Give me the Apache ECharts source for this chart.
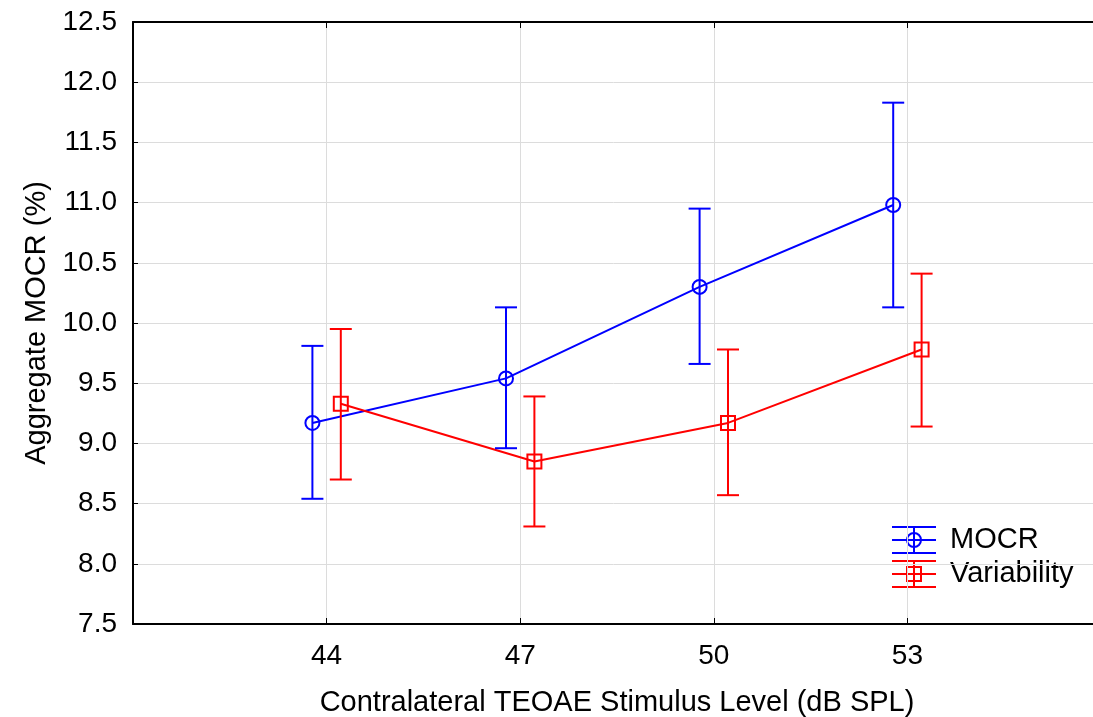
<!DOCTYPE html>
<html>
<head>
<meta charset="utf-8">
<script src="https://cdn.jsdelivr.net/npm/echarts@6/dist/echarts.min.js"></script>
<style>
html,body{margin:0;padding:0;background:#fff;}
#c{width:1093px;height:717px;}
</style>
</head>
<body>
<div id="c"></div>
<script>
// ---- data ----
const levels = [44, 47, 50, 53];
const mocrMean = [9.17, 9.54, 10.30, 10.98];
const mocrLow  = [8.54, 8.96, 9.66, 10.13];
const mocrHigh = [9.81, 10.13, 10.95, 11.83];
const varMean  = [9.33, 8.85, 9.17, 9.78];
const varLow   = [8.70, 8.31, 8.57, 9.14];
const varHigh  = [9.95, 9.39, 9.78, 10.41];
const seriesNames = ['MOCR', 'Variability'];
const xAxisTitle = 'Contralateral TEOAE Stimulus Level (dB SPL)';
const yAxisTitle = 'Aggregate MOCR (%)';

// ---- style ----
const FONT = '"Liberation Sans", Arial, sans-serif';
const FS = 28;
const FS_NAME = 29;
const BLUE = '#0000ff', RED = '#ff0000';
const OFFSET = 0.22; // horizontal dodge in x units
const CAP = 11;

function build(mean, low, high, off) {
  return levels.map((l, i) => [l + off, mean[i], low[i], high[i]]);
}

function errRender(color, shape) {
  return function (params, api) {
    const x = api.value(0);
    const pm = api.coord([x, api.value(1)]);
    const pl = api.coord([x, api.value(2)]);
    const ph = api.coord([x, api.value(3)]);
    const st = { stroke: color, lineWidth: 2, fill: 'none' };
    const children = [
      { type: 'line', shape: { x1: pl[0], y1: pl[1], x2: ph[0], y2: ph[1] }, style: st },
      { type: 'line', shape: { x1: pl[0] - CAP, y1: pl[1], x2: pl[0] + CAP, y2: pl[1] }, style: st },
      { type: 'line', shape: { x1: ph[0] - CAP, y1: ph[1], x2: ph[0] + CAP, y2: ph[1] }, style: st }
    ];
    if (shape === 'circle') {
      children.push({ type: 'circle', shape: { cx: pm[0], cy: pm[1], r: 7 }, style: st });
    } else {
      children.push({ type: 'rect', shape: { x: pm[0] - 7, y: pm[1] - 7, width: 14, height: 14 }, style: st });
    }
    return { type: 'group', children: children };
  };
}

function legendIcon(cx, cy, color, shape) {
  const st = { stroke: color, lineWidth: 2, fill: 'none' };
  const ch = [
    { type: 'line', shape: { x1: cx - 22, y1: cy - 13, x2: cx + 22, y2: cy - 13 }, style: st },
    { type: 'line', shape: { x1: cx - 22, y1: cy, x2: cx + 22, y2: cy }, style: st },
    { type: 'line', shape: { x1: cx - 22, y1: cy + 13, x2: cx + 22, y2: cy + 13 }, style: st },
    { type: 'line', shape: { x1: cx, y1: cy - 13, x2: cx, y2: cy + 13 }, style: st }
  ];
  if (shape === 'circle') ch.push({ type: 'circle', shape: { cx: cx, cy: cy, r: 7 }, style: st });
  else ch.push({ type: 'rect', shape: { x: cx - 7, y: cy - 7, width: 14, height: 14 }, style: st });
  return ch;
}

const chart = echarts.init(document.getElementById('c'), null, { renderer: 'canvas' });

const xCommon = {
  type: 'value', min: 41, max: 56, interval: 3
};

const option = {
  backgroundColor: '#fff',
  animation: false,
  grid: { left: 133, top: 22, right: -8, bottom: 93, containLabel: false, outerBoundsMode: 'none' },
  xAxis: [
    Object.assign({}, xCommon, {
      position: 'bottom',
      name: xAxisTitle, nameLocation: 'middle', nameGap: 64,
      nameTextStyle: { fontFamily: FONT, fontSize: FS_NAME, color: '#000' },
      axisLine: { show: true, onZero: false, lineStyle: { color: '#000', width: 2 } },
      axisTick: { show: true, inside: true, length: 6, lineStyle: { color: '#000', width: 1 } },
      axisLabel: { fontFamily: FONT, fontSize: FS, color: '#000', margin: 18,
        formatter: v => (levels.indexOf(v) >= 0 ? String(v) : '') },
      splitLine: { show: true, lineStyle: { color: '#dcdcdc', width: 1 } }
    }),
    Object.assign({}, xCommon, {
      position: 'top',
      axisLine: { show: true, onZero: false, lineStyle: { color: '#000', width: 2 } },
      axisTick: { show: true, inside: true, length: 6, lineStyle: { color: '#000', width: 1 } },
      axisLabel: { show: false },
      splitLine: { show: false }
    })
  ],
  yAxis: {
    type: 'value', min: 7.5, max: 12.5, interval: 0.5,
    name: yAxisTitle, nameLocation: 'middle', nameGap: 82, nameRotate: 90,
    nameTextStyle: { fontFamily: FONT, fontSize: FS_NAME, color: '#000' },
    axisLine: { show: true, onZero: false, lineStyle: { color: '#000', width: 2 } },
    axisTick: { show: true, inside: true, length: 5, lineStyle: { color: '#000', width: 1 } },
    axisLabel: { fontFamily: FONT, fontSize: FS, color: '#000', margin: 16,
      formatter: v => v.toFixed(1) },
    splitLine: { show: true, lineStyle: { color: '#dcdcdc', width: 1 } }
  },
  series: [
    {
      name: seriesNames[0], type: 'line', xAxisIndex: 0,
      data: build(mocrMean, mocrLow, mocrHigh, -OFFSET).map(d => [d[0], d[1]]),
      symbol: 'none', lineStyle: { color: BLUE, width: 2 }, z: 3
    },
    {
      name: seriesNames[1], type: 'line', xAxisIndex: 0,
      data: build(varMean, varLow, varHigh, OFFSET).map(d => [d[0], d[1]]),
      symbol: 'none', lineStyle: { color: RED, width: 2 }, z: 3
    },
    {
      name: seriesNames[0] + ' err', type: 'custom', xAxisIndex: 0,
      data: build(mocrMean, mocrLow, mocrHigh, -OFFSET),
      encode: { x: 0, y: [1, 2, 3] },
      renderItem: errRender(BLUE, 'circle'), z: 4
    },
    {
      name: seriesNames[1] + ' err', type: 'custom', xAxisIndex: 0,
      data: build(varMean, varLow, varHigh, OFFSET),
      encode: { x: 0, y: [1, 2, 3] },
      renderItem: errRender(RED, 'rect'), z: 4
    }
  ],
  graphic: [
    { type: 'group', z: 10, children: legendIcon(914, 540, BLUE, 'circle').concat([
      { type: 'text', x: 950, y: 540, style: { text: seriesNames[0], font: FS_NAME + 'px ' + FONT, fill: '#000', verticalAlign: 'middle', align: 'left' } }
    ]) },
    { type: 'group', z: 10, children: legendIcon(914, 574, RED, 'rect').concat([
      { type: 'text', x: 950, y: 574, style: { text: seriesNames[1], font: FS_NAME + 'px ' + FONT, fill: '#000', verticalAlign: 'middle', align: 'left' } }
    ]) }
  ]
};

chart.setOption(option);
</script>
</body>
</html>
